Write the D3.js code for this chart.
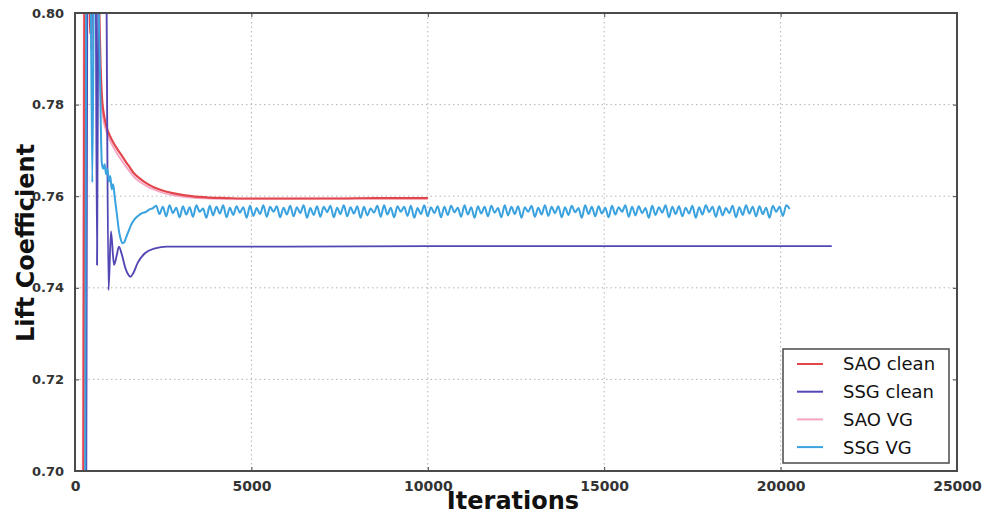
<!DOCTYPE html>
<html>
<head>
<meta charset="utf-8">
<script src="https://cdn.jsdelivr.net/npm/d3@7"></script>
<style>
  html, body { margin: 0; padding: 0; background: #fff; }
  svg { display: block; }
</style>
</head>
<body>
<svg id="chart" width="986" height="515"></svg>
<script>
// ---- data ----
const xTicks = [0, 5000, 10000, 15000, 20000, 25000];
const yTicks = [0.70, 0.72, 0.74, 0.76, 0.78, 0.80];
const seriesNames = ["SAO clean", "SSG clean", "SAO VG", "SSG VG"];
const seriesColors = ["#e2464b", "#5247b4", "#f5a5c3", "#3aa2de"];

// SAO clean
const saoCleanIter = [0, 220, 300, 400, 430, 470, 560, 640, 690, 725, 765, 820, 900, 1000, 1100, 1200, 1330, 1450, 1570, 1670, 1850, 2030, 2250, 2500, 2880, 3300, 3800, 4300, 4700, 5500, 6500, 7500, 8500, 9300, 10000];
const saoCleanVal  = [0.30, 0.64, 0.86, 0.82, 0.7955, 0.805, 0.83, 0.815, 0.800, 0.7885, 0.7815, 0.7778, 0.7750, 0.7730, 0.7715, 0.7703, 0.7688, 0.7674, 0.7661, 0.7650, 0.7638, 0.7628, 0.7619, 0.7612, 0.7605, 0.7600, 0.7597, 0.7596, 0.7595, 0.7595, 0.7595, 0.7595, 0.7596, 0.7596, 0.7596];

// SSG clean
const ssgCleanIter = [0, 300, 380, 470, 540, 580, 625, 680, 760, 870, 950, 1020, 1105, 1180, 1245, 1330, 1420, 1500, 1570, 1650, 1780, 1990, 2270, 2600, 3000, 4000, 6000, 10000, 15000, 21450];
const ssgCleanVal  = [0.30, 0.64, 0.87, 0.792, 0.86, 0.83, 0.745, 0.84, 0.86, 0.83, 0.7395, 0.7523, 0.7450, 0.7470, 0.7490, 0.7472, 0.7445, 0.7430, 0.7424, 0.7432, 0.7455, 0.7476, 0.7486, 0.7490, 0.7490, 0.7490, 0.7490, 0.7491, 0.7491, 0.7491];

// SAO VG
const saoVgIter = [0, 200, 280, 360, 480, 560, 640, 690, 730, 790, 880, 1000, 1100, 1200, 1330, 1450, 1570, 1670, 1850, 2030, 2250, 2500, 2880, 3300, 3800, 4500, 6000, 8000, 10000];
const saoVgVal  = [0.30, 0.64, 0.86, 0.83, 0.7905, 0.82, 0.812, 0.794, 0.7830, 0.7775, 0.7743, 0.7720, 0.7705, 0.7692, 0.7677, 0.7664, 0.7652, 0.7642, 0.7631, 0.7622, 0.7614, 0.7607, 0.7601, 0.7597, 0.7595, 0.7594, 0.7594, 0.7595, 0.7595];

// SSG VG: start-up transient
const ssgVgIter = [0, 270, 350, 430, 490, 560, 620, 700, 760, 800, 840, 880, 920, 960, 1000, 1040, 1080, 1130, 1180, 1250, 1300, 1346, 1400, 1445, 1510, 1587, 1680, 1785, 1900, 2012, 2110, 2210];
const ssgVgVal  = [0.30, 0.64, 0.87, 0.83, 0.763, 0.83, 0.82, 0.790, 0.7672, 0.7660, 0.7670, 0.7648, 0.7660, 0.7632, 0.7644, 0.7615, 0.7626, 0.7595, 0.7565, 0.7522, 0.7505, 0.7497, 0.7500, 0.7509, 0.7522, 0.7537, 0.7549, 0.7557, 0.7563, 0.7566, 0.7571, 0.7574];
// SSG VG: sustained oscillation, sampled every ssgVgStep iterations from ssgVgStart
const ssgVgStart = 2300;
const ssgVgStep = 95;
const ssgVgOsc = [
  0.7579, 0.7561, 0.7577, 0.7556, 0.7580, 0.7563, 0.7575, 0.7554, 0.7578, 0.7560,
  0.7576, 0.7555, 0.7580, 0.7566, 0.7573, 0.7553, 0.7579, 0.7558, 0.7577, 0.7562,
  0.7580, 0.7554, 0.7575, 0.7559, 0.7578, 0.7564, 0.7576, 0.7553, 0.7579, 0.7557,
  0.7574, 0.7561, 0.7580, 0.7555, 0.7577, 0.7566, 0.7578, 0.7554, 0.7575, 0.7560,
  0.7579, 0.7556, 0.7576, 0.7563, 0.7580, 0.7553, 0.7574, 0.7559, 0.7578, 0.7555,
  0.7577, 0.7565, 0.7579, 0.7554, 0.7575, 0.7561, 0.7580, 0.7556, 0.7576, 0.7562,
  0.7578, 0.7553, 0.7577, 0.7558, 0.7573, 0.7564, 0.7579, 0.7555, 0.7580, 0.7560,
  0.7575, 0.7554, 0.7578, 0.7566, 0.7577, 0.7557, 0.7579, 0.7553, 0.7574, 0.7561,
  0.7580, 0.7556, 0.7576, 0.7563, 0.7578, 0.7554, 0.7577, 0.7559, 0.7579, 0.7565,
  0.7575, 0.7555, 0.7580, 0.7560, 0.7576, 0.7553, 0.7578, 0.7562, 0.7577, 0.7556,
  0.7579, 0.7564, 0.7574, 0.7554, 0.7580, 0.7558, 0.7577, 0.7561, 0.7578, 0.7553,
  0.7576, 0.7566, 0.7579, 0.7555, 0.7575, 0.7560, 0.7580, 0.7557, 0.7577, 0.7563,
  0.7578, 0.7554, 0.7576, 0.7559, 0.7579, 0.7565, 0.7574, 0.7553, 0.7580, 0.7561,
  0.7577, 0.7556, 0.7578, 0.7562, 0.7575, 0.7554, 0.7579, 0.7560, 0.7576, 0.7566,
  0.7580, 0.7555, 0.7577, 0.7558, 0.7578, 0.7563, 0.7574, 0.7553, 0.7579, 0.7559,
  0.7576, 0.7564, 0.7580, 0.7554, 0.7577, 0.7561, 0.7578, 0.7556, 0.7575, 0.7562,
  0.7579, 0.7553, 0.7576, 0.7560, 0.7580, 0.7565, 0.7577, 0.7555, 0.7578, 0.7558,
  0.7574, 0.7563, 0.7579, 0.7554, 0.7576, 0.7559, 0.7580, 0.7562, 0.7577, 0.7556,
  0.7578, 0.7561, 0.7575, 0.7553, 0.7579, 0.7566, 0.7577, 0.7557, 0.7580, 0.7572
];

// ---- layout ----
const svg = d3.select("#chart");
const plot = { left: 75, right: 957, top: 13, bottom: 471 };

const x = d3.scaleLinear().domain([0, 25000]).range([plot.left, plot.right]);
const y = d3.scaleLinear().domain([0.70, 0.80]).range([plot.bottom, plot.top]);

const font = "'DejaVu Sans', sans-serif";

// clip region for the curves
svg.append("defs").append("clipPath").attr("id", "plot-clip")
  .append("rect")
  .attr("x", plot.left).attr("y", plot.top)
  .attr("width", plot.right - plot.left).attr("height", plot.bottom - plot.top);

// grid
const grid = svg.append("g").attr("class", "grid")
  .attr("stroke", "#b5b5b5").attr("stroke-width", 1).attr("stroke-dasharray", "1.5,3");
grid.selectAll("line.gx").data(xTicks.slice(1, -1)).join("line")
  .attr("x1", d => x(d)).attr("x2", d => x(d))
  .attr("y1", plot.top).attr("y2", plot.bottom);
grid.selectAll("line.gy").data(yTicks.slice(1, -1)).join("line")
  .attr("x1", plot.left).attr("x2", plot.right)
  .attr("y1", d => y(d)).attr("y2", d => y(d));

// curves
const line = d3.line()
  .x(d => x(d[0]))
  .y(d => y(d[1]))
  .curve(d3.curveMonotoneX);

const ssgVgAll = ssgVgIter.map((t, i) => [t, ssgVgVal[i]])
  .concat(ssgVgOsc.map((v, i) => [ssgVgStart + i * ssgVgStep, v]));

const series = [
  { name: seriesNames[0], color: seriesColors[0], width: 2.2, pts: saoCleanIter.map((t, i) => [t, saoCleanVal[i]]) },
  { name: seriesNames[1], color: seriesColors[1], width: 1.9, pts: ssgCleanIter.map((t, i) => [t, ssgCleanVal[i]]) },
  { name: seriesNames[2], color: seriesColors[2], width: 1.8, pts: saoVgIter.map((t, i) => [t, saoVgVal[i]]) },
  { name: seriesNames[3], color: seriesColors[3], width: 2.0, pts: ssgVgAll }
];

// the faint SAO VG trace sits underneath the others
const drawOrder = [series[2], series[0], series[1], series[3]];

const curves = svg.append("g").attr("clip-path", "url(#plot-clip)");
curves.selectAll("path").data(drawOrder).join("path")
  .attr("fill", "none")
  .attr("stroke", d => d.color)
  .attr("stroke-width", d => d.width)
  .attr("stroke-linejoin", "round")
  .attr("d", d => line(d.pts));

// axes with inward ticks on all four sides
const xAxisB = d3.axisBottom(x).tickValues(xTicks).tickSize(-4).tickPadding(10).tickFormat(d3.format("d"));
const xAxisT = d3.axisTop(x).tickValues(xTicks).tickSize(-4).tickFormat("");
const yAxisL = d3.axisLeft(y).tickValues(yTicks).tickSize(-4).tickPadding(11).tickFormat(d3.format(".2f"));
const yAxisR = d3.axisRight(y).tickValues(yTicks).tickSize(-4).tickFormat("");

function styleAxis(size) {
  return g => {
    g.select(".domain").remove();
    g.selectAll(".tick line").attr("stroke", "#444").attr("stroke-width", 1);
    g.selectAll(".tick text")
      .attr("fill", "#333")
      .style("font-family", font)
      .style("font-size", size + "px")
      .style("font-weight", "bold");
  };
}

svg.append("g").attr("transform", `translate(0,${plot.bottom})`).call(xAxisB).call(styleAxis(14));
svg.append("g").attr("transform", `translate(0,${plot.top})`).call(xAxisT).call(styleAxis(14));
svg.append("g").attr("transform", `translate(${plot.left},0)`).call(yAxisL).call(styleAxis(13));
svg.append("g").attr("transform", `translate(${plot.right},0)`).call(yAxisR).call(styleAxis(13));

// frame
svg.append("rect")
  .attr("x", plot.left).attr("y", plot.top)
  .attr("width", plot.right - plot.left).attr("height", plot.bottom - plot.top)
  .attr("fill", "none").attr("stroke", "#4a4a4a").attr("stroke-width", 2);

// axis titles
svg.append("text")
  .attr("x", (plot.left + plot.right) / 2 - 3).attr("y", 509)
  .attr("text-anchor", "middle")
  .style("font-family", font).style("font-size", "24px").style("font-weight", "bold")
  .attr("fill", "#111")
  .text("Iterations");

svg.append("text")
  .attr("transform", `translate(34,${(plot.top + plot.bottom) / 2 + 1}) rotate(-90)`)
  .attr("text-anchor", "middle")
  .style("font-family", font).style("font-size", "24px").style("font-weight", "bold")
  .attr("fill", "#111")
  .text("Lift Coefficient");

// legend
const legend = svg.append("g").attr("transform", "translate(783,349)");
legend.append("rect")
  .attr("width", 166).attr("height", 114)
  .attr("fill", "#fff").attr("stroke", "#4a4a4a").attr("stroke-width", 1.5);
const rows = legend.selectAll("g.row").data(series).join("g")
  .attr("transform", (d, i) => `translate(0,${15 + i * 27.7})`);
rows.append("line")
  .attr("x1", 14).attr("x2", 40).attr("y1", 0).attr("y2", 0)
  .attr("stroke", d => d.color).attr("stroke-width", 2);
rows.append("text")
  .attr("x", 60).attr("y", 0).attr("dy", "0.36em")
  .style("font-family", font).style("font-size", "18px")
  .attr("fill", "#111")
  .text(d => d.name);
</script>
</body>
</html>
